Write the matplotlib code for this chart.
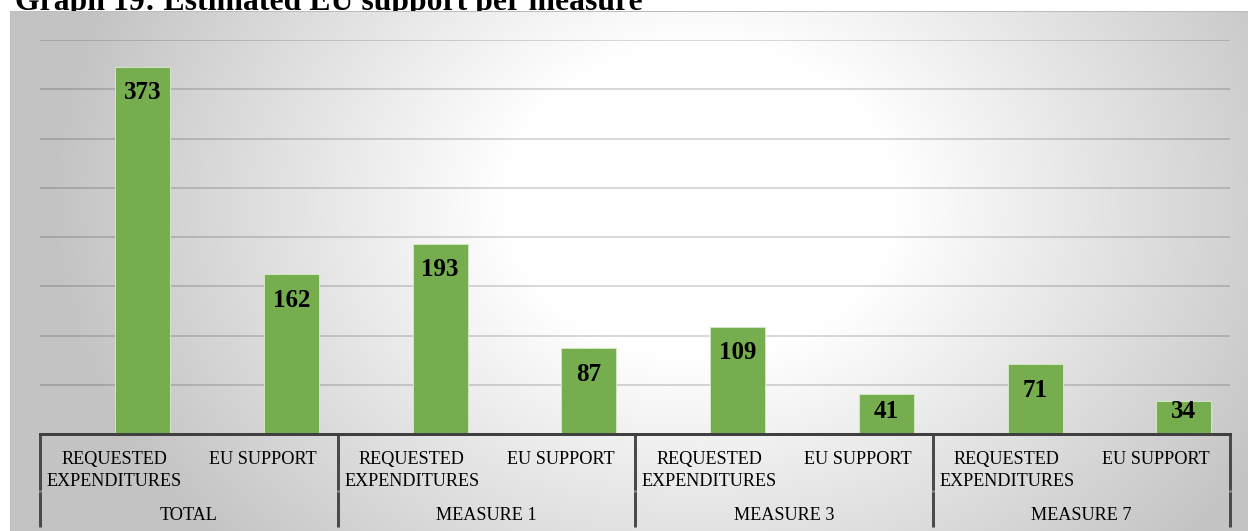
import numpy as np
import matplotlib
matplotlib.use('Agg')
import matplotlib.pyplot as plt
from matplotlib import transforms

# ---- data ----
title = "Graph 19: Estimated EU support per measure"
groups = ["TOTAL", "MEASURE 1", "MEASURE 3", "MEASURE 7"]
sub_labels = ["REQUESTED\nEXPENDITURES", "EU SUPPORT"] * 4
values = [373, 162, 193, 87, 109, 41, 71, 34]
y_max = 400
grid_step = 50

# ---- figure ----
W, H = 1248, 531
DPI = 72
plt.rcParams['font.family'] = ['Liberation Serif', 'DejaVu Serif']

fig = plt.figure(figsize=(W / DPI, H / DPI), dpi=DPI)
fig.patch.set_facecolor('white')

# title (partially hidden behind the chart area)
fig.text(15 / W, 1 - 10 / H, title, fontsize=31.8, fontweight='bold',
         ha='left', va='baseline', zorder=-1)

# chart area with radial gradient
bx0, by0 = 10, 11
bg = fig.add_axes([bx0 / W, 0, (W - bx0) / W, (H - by0) / H], zorder=0)
gw, gh = W - bx0, H - by0
xx, yy = np.meshgrid(np.arange(gw) + bx0, np.arange(gh) + by0)
cx, cy, rx, ry = 700, 200, 650, 520
d = np.sqrt(((xx - cx) / rx) ** 2 + ((yy - cy) / ry) ** 2)
t = np.clip((d - 0.3) / 0.7, 0, 1)
g = 1 - t * (1 - 0.765)
bg.imshow(np.dstack([g, g, g]), aspect='auto', extent=[0, 1, 0, 1],
          interpolation='bilinear')
bg.set_xlim(0, 1)
bg.set_ylim(0, 1)
bg.set_xticks([])
bg.set_yticks([])
for s in bg.spines.values():
    s.set_color('#bdbdbd')
    s.set_linewidth(1)

# plot area
L, R, T, B = 40, 1230, 40, 434
ax = fig.add_axes([L / W, 1 - B / H, (R - L) / W, (B - T) / H], zorder=1)
ax.patch.set_alpha(0)
ax.set_xlim(0, len(values))
ax.set_ylim(0, y_max)
for s in ax.spines.values():
    s.set_visible(False)
ax.set_xticks([])
ax.set_yticks([])

for yv in np.arange(grid_step, y_max + 1, grid_step):
    ax.axhline(yv, color='black', alpha=0.15, lw=2, zorder=1)

x = np.arange(len(values))
bar_off = 0.19
ax.bar(x + 0.5 + bar_off, values, width=0.37, color='#76ae4f',
       edgecolor='#d0e6c2', linewidth=1, zorder=2)
ax.axhline(0, color='#404040', lw=3, zorder=3, clip_on=False)

px = (B - T) / y_max
for xi, v in zip(x, values):
    yc = max(v - 26 / px, 22 / px)
    ax.text(xi + 0.5 + bar_off, yc, f"{v}", ha='center', va='center',
            fontsize=25, fontweight='bold', zorder=4)

tr = transforms.blended_transform_factory(ax.transData, fig.transFigure)


def fy(p):
    return 1 - p / H


for i, lab in enumerate(sub_labels):
    for j, line in enumerate(lab.split('\n')):
        ax.text(i + 0.5, fy(464 + 22 * j), line, transform=tr, ha='center',
                va='baseline', fontsize=18.3, clip_on=False)
for k, grp in enumerate(groups):
    ax.text(2 * k + 1, fy(520), grp, transform=tr, ha='center',
            va='baseline', fontsize=18.3, clip_on=False)
for k in range(len(groups) + 1):
    ax.plot([2 * k, 2 * k], [fy(434), fy(527)], transform=tr,
            color='#4a4a4a', lw=3, clip_on=False, solid_capstyle='butt')
    ax.plot([2 * k, 2 * k], [fy(490), fy(492)], transform=tr,
            color='#8c8c8c', lw=3, clip_on=False, solid_capstyle='butt')

fig.savefig('out.png', dpi=DPI)
